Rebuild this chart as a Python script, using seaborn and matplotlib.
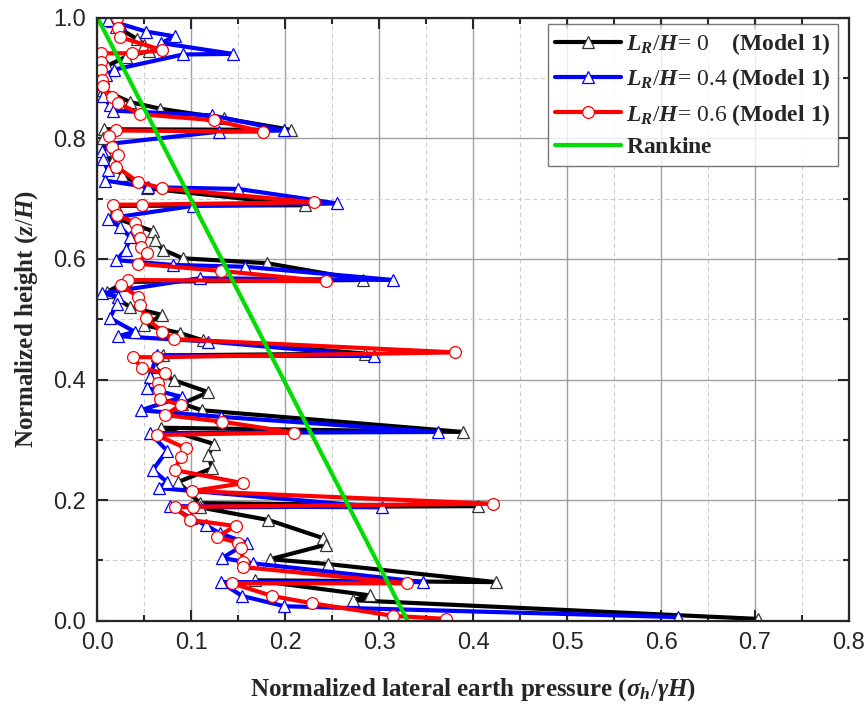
import numpy as np
import pandas as pd
import seaborn as sns
import matplotlib.pyplot as plt
from matplotlib.ticker import MultipleLocator

# L_R/H = 0 (Model 1)
y_lr0 = [0.995, 0.985, 0.965, 0.955, 0.945, 0.935, 0.920, 0.900, 0.880, 0.860, 0.849, 0.833, 0.814,
         0.815, 0.800, 0.780, 0.760, 0.739, 0.717, 0.689, 0.688, 0.670, 0.646, 0.631, 0.615, 0.601,
         0.593, 0.565, 0.562, 0.545, 0.520, 0.507, 0.490, 0.477, 0.465, 0.443, 0.440, 0.420, 0.399,
         0.379, 0.360, 0.349, 0.313, 0.320, 0.293, 0.275, 0.253, 0.230, 0.195, 0.190, 0.188, 0.167,
         0.137, 0.126, 0.102, 0.094, 0.064, 0.067, 0.042, 0.034, 0.003]
x_lr0 = [0.015, 0.020, 0.042, 0.050, 0.055, 0.030, 0.010, 0.006, 0.006, 0.035, 0.067, 0.135, 0.206,
         0.007, 0.006, 0.008, 0.015, 0.026, 0.053, 0.221, 0.020, 0.015, 0.059, 0.061, 0.070, 0.091,
         0.180, 0.283, 0.030, 0.010, 0.035, 0.069, 0.050, 0.088, 0.112, 0.285, 0.070, 0.060, 0.081,
         0.118, 0.090, 0.111, 0.389, 0.068, 0.124, 0.118, 0.122, 0.086, 0.109, 0.405, 0.109, 0.182,
         0.240, 0.243, 0.184, 0.245, 0.424, 0.168, 0.290, 0.272, 0.703]

# L_R/H = 0.4 (Model 1)
y_lr04 = [0.997, 0.990, 0.977, 0.969, 0.958, 0.940, 0.939, 0.914, 0.905, 0.890, 0.870, 0.855, 0.846,
          0.838, 0.813, 0.811, 0.791, 0.779, 0.765, 0.747, 0.730, 0.719, 0.716, 0.692, 0.688, 0.667,
          0.653, 0.636, 0.615, 0.598, 0.590, 0.587, 0.565, 0.568, 0.543, 0.537, 0.526, 0.502, 0.479,
          0.472, 0.463, 0.439, 0.440, 0.404, 0.386, 0.371, 0.349, 0.338, 0.313, 0.311, 0.282, 0.250,
          0.230, 0.220, 0.188, 0.190, 0.170, 0.158, 0.145, 0.129, 0.104, 0.095, 0.064, 0.064, 0.041,
          0.024, 0.006]
x_lr04 = [0.011, 0.024, 0.052, 0.082, 0.068, 0.144, 0.091, 0.018, 0.009, 0.005, 0.006, 0.013, 0.016,
          0.122, 0.199, 0.129, 0.014, 0.005, 0.006, 0.011, 0.008, 0.054, 0.150, 0.255, 0.102, 0.011,
          0.024, 0.035, 0.030, 0.020, 0.080, 0.157, 0.315, 0.109, 0.005, 0.022, 0.021, 0.013, 0.040,
          0.022, 0.118, 0.294, 0.063, 0.056, 0.053, 0.090, 0.046, 0.132, 0.362, 0.056, 0.074, 0.059,
          0.074, 0.065, 0.303, 0.077, 0.100, 0.116, 0.130, 0.159, 0.133, 0.166, 0.347, 0.131, 0.154,
          0.199, 0.618]

# L_R/H = 0.6 (Model 1)
y_lr06 = [1.000, 0.983, 0.968, 0.946, 0.941, 0.941, 0.927, 0.913, 0.896, 0.886, 0.868, 0.859, 0.840,
          0.830, 0.811, 0.813, 0.804, 0.785, 0.773, 0.753, 0.728, 0.717, 0.694, 0.690, 0.690, 0.673,
          0.660, 0.648, 0.635, 0.620, 0.610, 0.592, 0.580, 0.563, 0.565, 0.557, 0.537, 0.523, 0.502,
          0.479, 0.467, 0.445, 0.437, 0.437, 0.419, 0.410, 0.394, 0.383, 0.367, 0.358, 0.341, 0.330,
          0.312, 0.308, 0.286, 0.272, 0.250, 0.228, 0.215, 0.194, 0.189, 0.188, 0.167, 0.157, 0.139,
          0.129, 0.120, 0.097, 0.089, 0.062, 0.062, 0.041, 0.029, 0.008, 0.003]
x_lr06 = [0.021, 0.022, 0.024, 0.069, 0.037, 0.004, 0.004, 0.004, 0.005, 0.006, 0.015, 0.022, 0.045,
          0.124, 0.176, 0.020, 0.012, 0.015, 0.022, 0.020, 0.043, 0.069, 0.230, 0.047, 0.017, 0.021,
          0.040, 0.042, 0.045, 0.046, 0.053, 0.043, 0.132, 0.243, 0.033, 0.025, 0.043, 0.045, 0.052,
          0.069, 0.081, 0.381, 0.063, 0.038, 0.047, 0.072, 0.064, 0.066, 0.067, 0.089, 0.072, 0.133,
          0.209, 0.063, 0.094, 0.089, 0.082, 0.155, 0.101, 0.421, 0.102, 0.083, 0.099, 0.147, 0.127,
          0.150, 0.153, 0.155, 0.155, 0.330, 0.143, 0.186, 0.228, 0.315, 0.371]

# Rankine
y_rankine = [1.0, 0.0]
x_rankine = [0.0, 0.33]

sns.set_style("ticks")
plt.rcParams["font.family"] = ["Liberation Serif", "DejaVu Serif"]
plt.rcParams["mathtext.fontset"] = "custom"
plt.rcParams["mathtext.rm"] = "Liberation Serif"
plt.rcParams["mathtext.it"] = "Liberation Serif:italic:bold"
plt.rcParams["mathtext.bf"] = "Liberation Serif:bold"

fig = plt.figure(figsize=(8.68, 7.17), dpi=100)
ax = fig.add_axes([0.1123, 0.1343, 0.8658, 0.841])

series = [
    (x_lr0, y_lr0, "black", "#333333", "^", 9, r"$L_R/H$= 0    $\mathbf{(Model\ 1)}$"),
    (x_lr04, y_lr04, "#0000ff", "#0000ff", "^", 9, r"$L_R/H$= 0.4 $\mathbf{(Model\ 1)}$"),
    (x_lr06, y_lr06, "#ff0000", "#ff0000", "o", 8.5, r"$L_R/H$= 0.6 $\mathbf{(Model\ 1)}$"),
]
for xs, ys, col, edge, mk, size, lab in series:
    d = pd.DataFrame({"x": xs, "y": ys})
    sns.lineplot(data=d, x="x", y="y", sort=False, estimator=None, ax=ax, color=col,
                 lw=3, marker=mk, ms=size, mfc="white", mec=edge, mew=0.9, label=lab)

rk = pd.DataFrame({"x": x_rankine, "y": y_rankine})
sns.lineplot(data=rk, x="x", y="y", sort=False, estimator=None, ax=ax, color="#00dd00",
             lw=3, label=r"$\mathbf{Rankine}$")

ax.set_xlim(0, 0.8)
ax.set_ylim(0, 1.0)
ax.xaxis.set_major_locator(MultipleLocator(0.1))
ax.xaxis.set_minor_locator(MultipleLocator(0.05))
ax.yaxis.set_major_locator(MultipleLocator(0.2))
ax.yaxis.set_minor_locator(MultipleLocator(0.1))
ax.grid(which="major", color="#a0a0a0", lw=1.0)
ax.grid(which="minor", color="#cccccc", lw=0.8, ls=(0, (4, 3)))
ax.set_axisbelow(True)
ax.tick_params(which="both", direction="in", top=True, right=True, width=1.5)
ax.tick_params(which="major", length=8, labelsize=17, pad=8)
ax.tick_params(which="minor", length=4)
for lbl in ax.get_xticklabels() + ax.get_yticklabels():
    lbl.set_fontfamily(["Liberation Sans", "DejaVu Sans"])
for s in ax.spines.values():
    s.set_linewidth(1.6)

ax.set_xlabel(r"Normalized lateral earth pressure ($\sigma_h/\gamma H$)", fontsize=18,
              fontweight="bold", labelpad=16)
ax.set_ylabel(r"Normalized height ($z/H$)", fontsize=18, fontweight="bold", labelpad=10)

leg = ax.legend(loc="upper right", bbox_to_anchor=(0.985, 0.99), borderaxespad=0,
                fontsize=17, frameon=True, fancybox=False, edgecolor="#555555",
                handlelength=2.8, handletextpad=0.2, labelspacing=0.4, borderpad=0.3)
leg.get_frame().set_linewidth(1.0)

fig.savefig("out.png", dpi=100)
